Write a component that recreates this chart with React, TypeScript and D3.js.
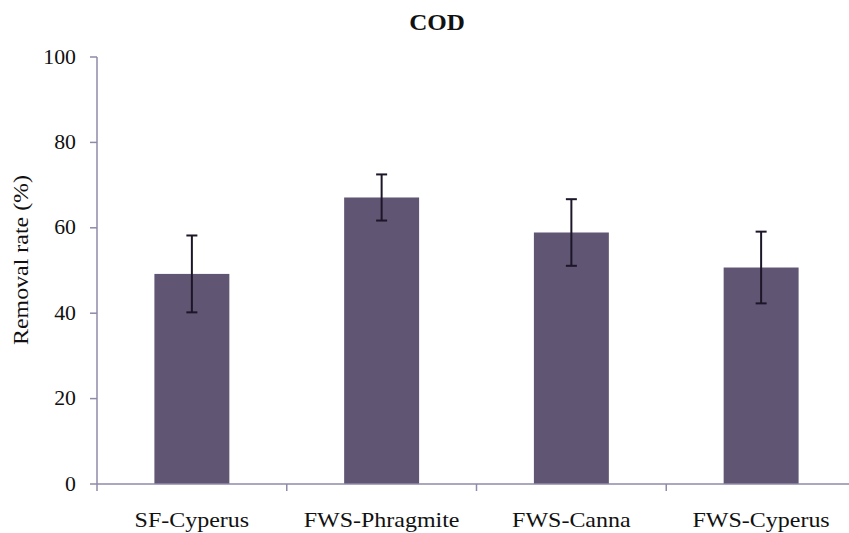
import React from "react";
import * as d3 from "d3";

const categories = ["SF-Cyperus", "FWS-Phragmite", "FWS-Canna", "FWS-Cyperus"];
const values = [49.2, 67.1, 58.9, 50.7];
const errors = [9.0, 5.4, 7.8, 8.4];
const yTicks = [0, 20, 40, 60, 80, 100];
const title = "COD";
const yLabel = "Removal rate (%)";

const W = 849;
const H = 533;
const left = 97;
const right = 856;
const top = 57;
const bottom = 484;
const SX = 1.09;

export default function App() {
  const x = d3.scaleBand<string>().domain(categories).range([left, right]).paddingInner(0).paddingOuter(0);
  const y = d3.scaleLinear().domain([0, 100]).range([bottom, top]);
  const bw = x.bandwidth() * 0.395;
  const axisColor = "#8e8aa8";
  const font = "Liberation Serif";
  const boundaries = categories.map((c) => x(c) as number).concat([right]);

  return (
    <svg width={W} height={H} style={{ position: "absolute", left: 0, top: 0, background: "#fff" }}>
      <text
        transform={`translate(437, 30) scale(${SX},1)`}
        textAnchor="middle"
        style={{ fontFamily: font, fontWeight: "bold", fontSize: 23 }}
        fill="#111"
      >
        {title}
      </text>
      {categories.map((c, i) => {
        const cx = (x(c) as number) + x.bandwidth() / 2;
        return (
          <rect key={c} x={cx - bw / 2} y={y(values[i])} width={bw} height={y(0) - y(values[i])} fill="#605573" />
        );
      })}
      {categories.map((c, i) => {
        const cx = (x(c) as number) + x.bandwidth() / 2;
        const hi = y(values[i] + errors[i]);
        const lo = y(values[i] - errors[i]);
        return (
          <g key={c + "e"} stroke="#1c1628" strokeWidth={2}>
            <line x1={cx} x2={cx} y1={hi} y2={lo} />
            <line x1={cx - 5.5} x2={cx + 5.5} y1={hi} y2={hi} />
            <line x1={cx - 5.5} x2={cx + 5.5} y1={lo} y2={lo} />
          </g>
        );
      })}
      <line x1={left} x2={left} y1={top} y2={bottom} stroke={axisColor} strokeWidth={1.5} />
      {yTicks.map((t) => (
        <g key={t}>
          <line x1={left - 7} x2={left} y1={y(t)} y2={y(t)} stroke={axisColor} strokeWidth={1.5} />
          <text
            transform={`translate(76, ${y(t) + 6.5}) scale(${SX},1)`}
            textAnchor="end"
            style={{ fontFamily: font, fontSize: 20 }}
            fill="#111"
          >
            {t}
          </text>
        </g>
      ))}
      <line x1={left} x2={right} y1={bottom} y2={bottom} stroke={axisColor} strokeWidth={1.5} />
      {boundaries.map((b, i) => (
        <line key={i} x1={b} x2={b} y1={bottom} y2={bottom + 7} stroke={axisColor} strokeWidth={1.5} />
      ))}
      {categories.map((c) => (
        <text
          key={c + "l"}
          transform={`translate(${(x(c) as number) + x.bandwidth() / 2}, 527) scale(${SX},1)`}
          textAnchor="middle"
          style={{ fontFamily: font, fontSize: 22 }}
          fill="#111"
        >
          {c}
        </text>
      ))}
      <text
        transform={`translate(28, 260) rotate(-90)`}
        textAnchor="middle"
        textLength={170}
        lengthAdjust="spacingAndGlyphs"
        style={{ fontFamily: font, fontSize: 21 }}
        fill="#111"
      >
        {yLabel}
      </text>
    </svg>
  );
}
